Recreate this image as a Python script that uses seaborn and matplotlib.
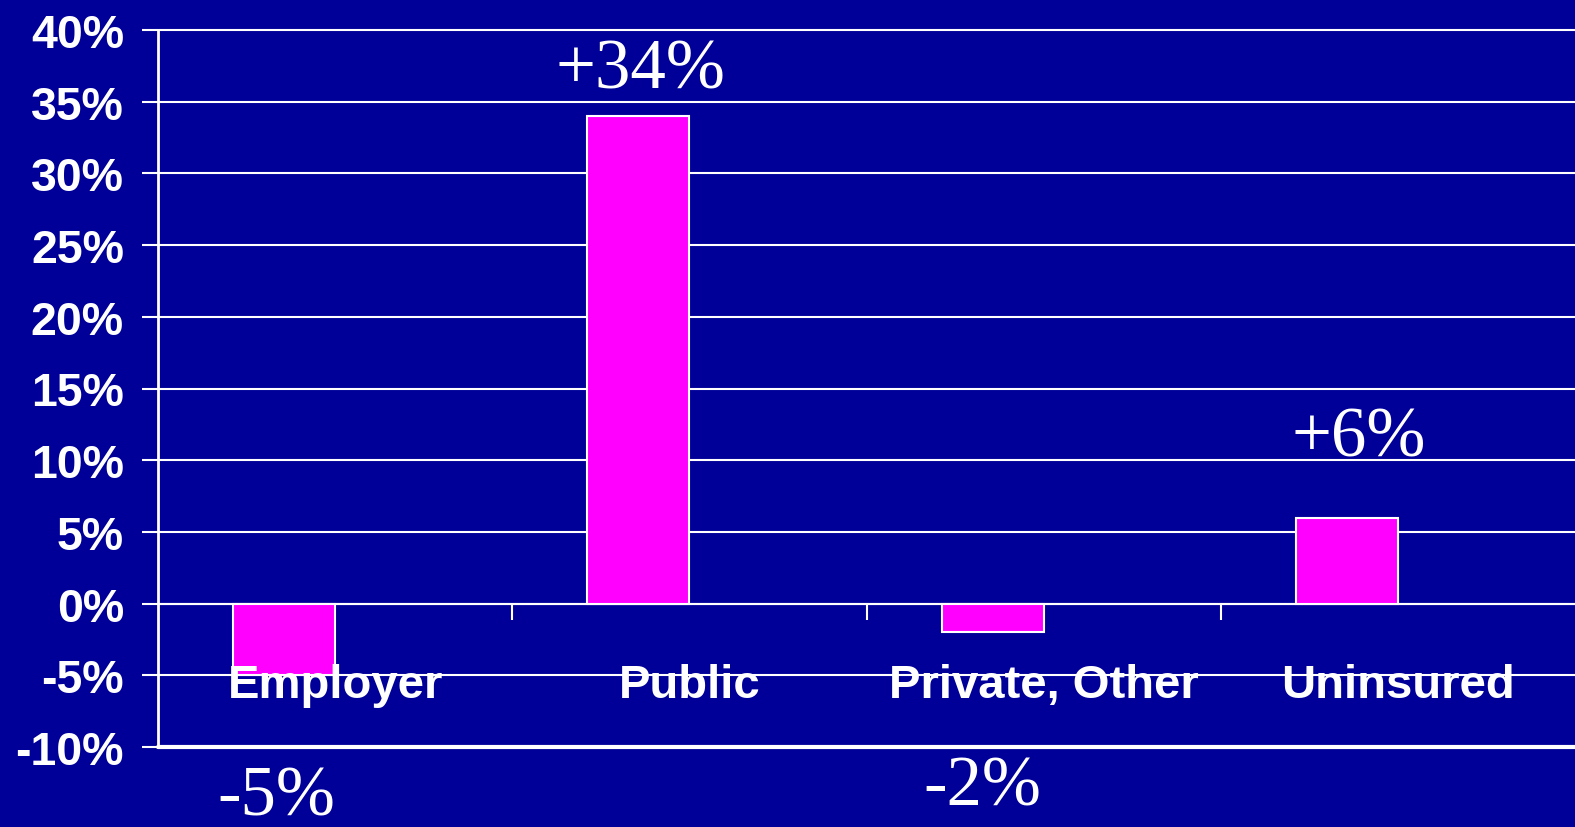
import matplotlib
matplotlib.use("Agg")
import matplotlib.pyplot as plt
import seaborn as sns
import pandas as pd
import numpy as np

# Change in coverage by source
categories = ["Employer", "Public", "Private, Other", "Uninsured"]
changes = [-5, 34, -2, 6]
label_text = ["-5%", "+34%", "-2%", "+6%"]
# where each value label sits (data units) and a small horizontal nudge
label_y = [-14.7, 36.0, -14.0, 10.3]
label_dx = [-0.023, 0.005, -0.028, 0.034]
yticks = [-10, -5, 0, 5, 10, 15, 20, 25, 30, 35, 40]
ytick_labels = [f"{v}%" for v in yticks]

BG = "#000099"
BAR = "#FF00FF"
FG = "white"

sns.set_style("dark")
plt.rcParams["font.family"] = ["Liberation Sans", "DejaVu Sans"]

# second (empty) series keeps the bars dodged to the left of each category
df = pd.DataFrame({
    "category": categories * 2,
    "series": ["change"] * 4 + ["blank"] * 4,
    "value": changes + [np.nan] * 4,
})

fig = plt.figure(figsize=(15.75, 8.28), dpi=100, facecolor=BG)
ax = fig.add_axes([158 / 1575, 1 - 748 / 828, 1 - 158 / 1575, (748 - 31) / 828])
ax.set_facecolor(BG)

sns.barplot(data=df, x="category", y="value", hue="series",
            hue_order=["change", "blank"], order=categories,
            palette=[BAR, BAR], saturation=1, width=0.576, dodge=True,
            edgecolor=FG, linewidth=1.5, errorbar=None, legend=False,
            ax=ax, zorder=3)

ax.set_xlim(-0.5, 3.5)
ax.set_ylim(-10, 40)
ax.set_xlabel("")
ax.set_ylabel("")

ax.set_yticks(yticks)
ax.set_yticklabels(ytick_labels, fontsize=33.5, fontweight="bold", color=FG)
ax.tick_params(axis="y", direction="out", length=11.5, width=1.5, color=FG, pad=13, left=True)

ax.set_xticks([0.5, 1.5, 2.5])
ax.set_xticklabels([])
ax.tick_params(axis="x", direction="out", length=11.5, width=1.5, color=FG, bottom=True)

ax.grid(axis="y", color=FG, linewidth=1.5, zorder=1)
ax.grid(axis="x", visible=False)
ax.set_axisbelow(True)
for gl, v in zip(ax.get_ygridlines(), yticks):
    gl.set_clip_on(False)
    if v == yticks[0]:
        gl.set_linewidth(3)

for side in ["top", "right"]:
    ax.spines[side].set_visible(False)
ax.spines["left"].set_color(FG)
ax.spines["left"].set_linewidth(2)
ax.spines["bottom"].set_position(("data", 0))
ax.spines["bottom"].set_color(FG)
ax.spines["bottom"].set_linewidth(1.5)

# category names sit inside the plot area below the zero line
for i, name in enumerate(categories):
    ax.text(i, -6.5, name, ha="center", va="baseline", fontsize=34,
            fontweight="bold", color=FG, zorder=5)

# value labels, positioned from the bar positions
bar_patches = [p for p in ax.patches if np.isfinite(p.get_height()) and p.get_width() > 0]
bar_patches = sorted(bar_patches, key=lambda p: p.get_x())[:len(changes)]
for p, txt, ly, dx in zip(bar_patches, label_text, label_y, label_dx):
    cx = p.get_x() + p.get_width() / 2 + dx
    ax.text(cx, ly, txt, ha="center", va="baseline", fontsize=51,
            family=["Liberation Serif", "DejaVu Serif"], color=FG,
            zorder=5, clip_on=False)

fig.savefig("out.png", dpi=100, facecolor=BG)
